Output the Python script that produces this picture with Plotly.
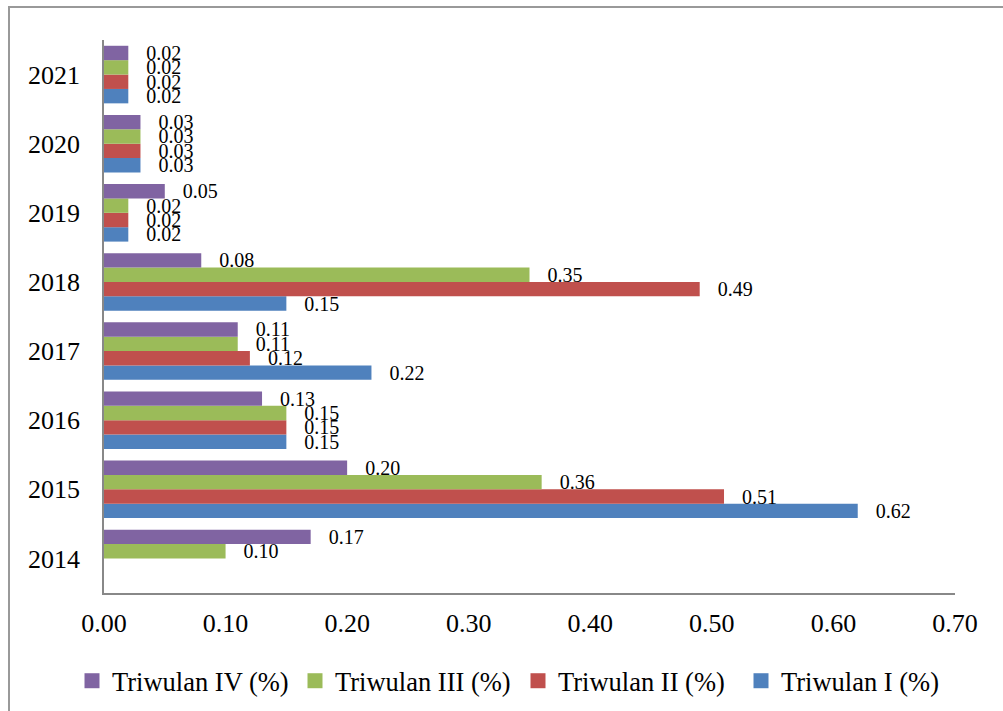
import plotly.graph_objects as go

years = ["2014", "2015", "2016", "2017", "2018", "2019", "2020", "2021"]
tw1 = [None, 0.62, 0.15, 0.22, 0.15, 0.02, 0.03, 0.02]
tw2 = [None, 0.51, 0.15, 0.12, 0.49, 0.02, 0.03, 0.02]
tw3 = [0.10, 0.36, 0.15, 0.11, 0.35, 0.02, 0.03, 0.02]
tw4 = [0.17, 0.20, 0.13, 0.11, 0.08, 0.05, 0.03, 0.02]
names = ["Triwulan I (%)", "Triwulan II (%)", "Triwulan III (%)", "Triwulan IV (%)"]
colors = ["#4F81BD", "#C0504D", "#9BBB59", "#8064A2"]
series = [tw1, tw2, tw3, tw4]
x_ticks = [0, 0.1, 0.2, 0.3, 0.4, 0.5, 0.6, 0.7]

FONT = "Liberation Serif"

fig = go.Figure()
for name, col, vals in zip(names, colors, series):
    fig.add_trace(go.Bar(
        y=years, x=vals, name=name, orientation="h",
        marker=dict(color=col, line=dict(width=0)),
        text=[None if v is None else "\u00a0\u00a0\u00a0" + f"{v:.2f}" for v in vals],
        textposition="outside", cliponaxis=False, constraintext="none",
        textfont=dict(family=FONT, size=20, color="black"),
        hoverinfo="skip", showlegend=False,
    ))
# legend entries with square swatches
for name, col in zip(names, colors):
    fig.add_trace(go.Scatter(
        x=[None], y=[None], name=name, mode="markers",
        marker=dict(symbol="square", size=15, color=col),
        showlegend=True, hoverinfo="skip",
    ))

L, R, T, B = 104, 48, 40, 118
W, H = 1003, 711
pw, ph = W - L - R, H - T - B

def px(xp):
    return (xp - L) / pw

def py(yp):
    return (H - B - yp) / ph

fig.update_layout(
    width=W, height=H,
    margin=dict(l=L, r=R, t=T, b=B, autoexpand=False),
    barmode="group", bargap=0.167, bargroupgap=0,
    plot_bgcolor="white", paper_bgcolor="white",
    font=dict(family=FONT, color="black"),
    xaxis=dict(range=[0, 0.7], tickvals=x_ticks, tickformat=".2f",
               showgrid=False, zeroline=False, showline=True,
               linecolor="#888888", linewidth=1.5, ticks="",
               tickfont=dict(family=FONT, size=26, color="black"),
               ticklabelstandoff=6),
    yaxis=dict(categoryorder="array", categoryarray=years,
               range=[-0.5, 7.5], showgrid=False, zeroline=False, showline=True,
               linecolor="#888888", linewidth=1.5, ticks="",
               tickfont=dict(family=FONT, size=26, color="black"),
               ticklabelstandoff=17),
    legend=dict(orientation="h", traceorder="reversed",
                x=px(72), xanchor="left", y=py(681), yanchor="middle",
                font=dict(family=FONT, size=26.5, color="black"),
                entrywidth=178, entrywidthmode="pixels", bgcolor="rgba(0,0,0,0)"),
    showlegend=True,
    shapes=[dict(type="rect", xref="paper", yref="paper",
                 x0=px(9), x1=px(1010), y0=py(720), y1=py(7),
                 line=dict(color="#999999", width=2), fillcolor="rgba(0,0,0,0)")],
)

fig.write_html("out.html", config={"displayModeBar": False},
               post_script="document.body.style.margin='0';document.body.style.overflow='hidden';")
